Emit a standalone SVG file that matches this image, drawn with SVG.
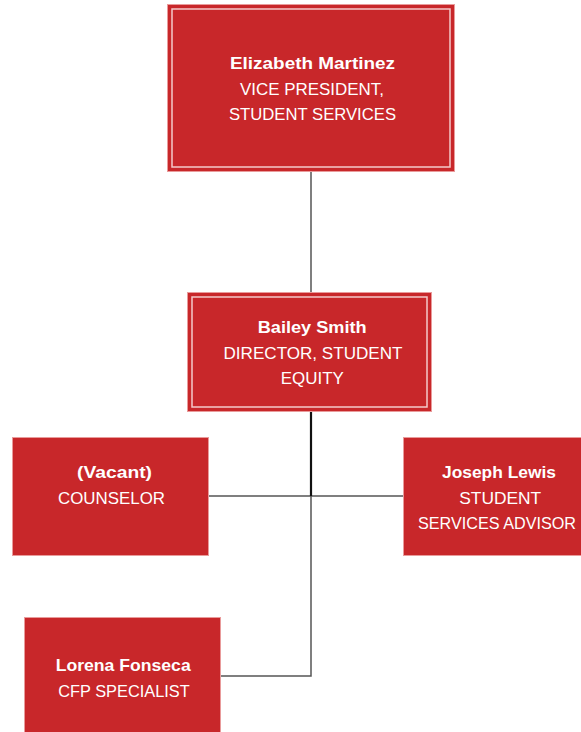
<svg xmlns="http://www.w3.org/2000/svg" width="581" height="732" viewBox="0 0 581 732">
<style>
.box{fill:#C8272A;stroke:#E99B9B;stroke-width:1}
.inner{fill:none;stroke:#F4CACA;stroke-width:1.5}
.t{font-family:"Liberation Sans",Arial,sans-serif;font-size:17px;fill:#fff;text-anchor:middle}
.b{font-weight:bold}
.c{fill:none;stroke:#555;stroke-width:1.5}
.k{fill:none;stroke:#111;stroke-width:2.2}
</style>
<rect width="581" height="732" fill="#fff"/>
<g id="connectors">
<path class="c" d="M311,172 V292"/>
<path class="c" d="M311,496 V676 H221"/>
<path class="c" d="M209,496 H403"/>
<path class="k" d="M311,412 V496"/>
</g>
<g id="vp">
<rect class="box" x="167.5" y="4.5" width="287" height="167"/>
<rect class="inner" x="172" y="9" width="278" height="158"/>
<text class="t b" x="312.5" y="69" textLength="165" lengthAdjust="spacingAndGlyphs">Elizabeth Martinez</text>
<text class="t" x="312" y="95" textLength="144" lengthAdjust="spacingAndGlyphs">VICE PRESIDENT,</text>
<text class="t" x="312.5" y="120" textLength="167" lengthAdjust="spacingAndGlyphs">STUDENT SERVICES</text>
</g>
<g id="director">
<rect class="box" x="187.5" y="292.5" width="244" height="119"/>
<rect class="inner" x="192" y="297" width="235" height="110"/>
<text class="t b" x="312.2" y="333" textLength="109" lengthAdjust="spacingAndGlyphs">Bailey Smith</text>
<text class="t" x="313" y="359" textLength="179" lengthAdjust="spacingAndGlyphs">DIRECTOR, STUDENT</text>
<text class="t" x="312.3" y="384" textLength="63" lengthAdjust="spacingAndGlyphs">EQUITY</text>
</g>
<g id="counselor">
<rect class="box" x="12.5" y="437.5" width="196" height="118"/>
<text class="t b" x="114.5" y="478" textLength="75" lengthAdjust="spacingAndGlyphs">(Vacant)</text>
<text class="t" x="111.5" y="504" textLength="107" lengthAdjust="spacingAndGlyphs">COUNSELOR</text>
</g>
<g id="advisor">
<rect class="box" x="403.5" y="437.5" width="196" height="118"/>
<text class="t b" x="499" y="478" textLength="114" lengthAdjust="spacingAndGlyphs">Joseph Lewis</text>
<text class="t" x="500.2" y="504" textLength="82" lengthAdjust="spacingAndGlyphs">STUDENT</text>
<text class="t" x="497" y="529" textLength="158" lengthAdjust="spacingAndGlyphs">SERVICES ADVISOR</text>
</g>
<g id="cfp">
<rect class="box" x="24.5" y="617.5" width="196" height="118"/>
<text class="t b" x="123.2" y="671" textLength="135" lengthAdjust="spacingAndGlyphs">Lorena Fonseca</text>
<text class="t" x="124" y="697" textLength="131.5" lengthAdjust="spacingAndGlyphs">CFP SPECIALIST</text>
</g>
</svg>
